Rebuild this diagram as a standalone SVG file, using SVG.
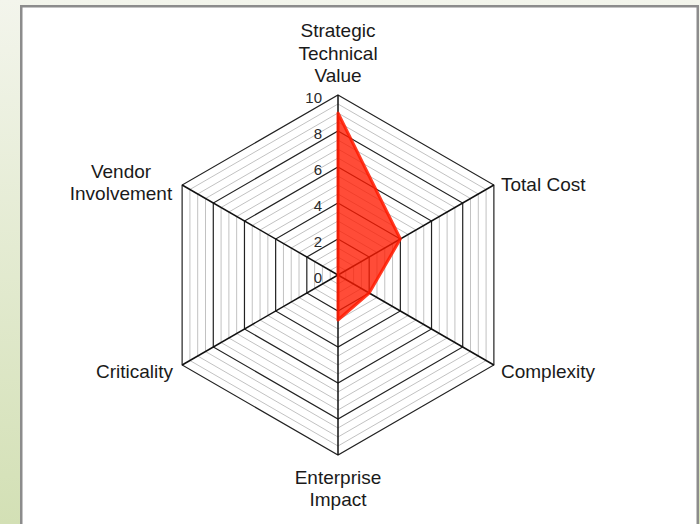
<svg xmlns="http://www.w3.org/2000/svg" width="700" height="524" viewBox="0 0 700 524">
<defs>
<linearGradient id="bg" x1="0" y1="0" x2="0" y2="1">
<stop offset="0" stop-color="#f3f5ec"/>
<stop offset="1" stop-color="#d3e0b5"/>
</linearGradient>
</defs>
<style>
.minor{fill:none;stroke:#c2c2c2;stroke-width:1}
.major{fill:none;stroke:#222;stroke-width:1.2}
.axis{stroke:#111;stroke-width:1.5}
.lbl{font-family:"Liberation Sans",Arial,sans-serif;font-size:19px;fill:#1a1a1a}
.tick{font-family:"Liberation Sans",Arial,sans-serif;font-size:15px;fill:#2a2a2a;text-anchor:end}
.data{fill:#ff1a00;fill-opacity:0.78;stroke:#ff1a00;stroke-opacity:0.85;stroke-width:3;stroke-linejoin:round}
</style>
<rect x="0" y="0" width="700" height="524" fill="url(#bg)"/>
<rect id="panel" x="21.25" y="6.25" width="676.5" height="530" fill="#ffffff" stroke="#8c8c8c" stroke-width="2.5"/>
<g id="grid-minor">
<polygon class="minor" points="338,266 345.79,270.5 345.79,279.5 338,284 330.21,279.5 330.21,270.5"/>
<polygon class="minor" points="338,257 353.59,266 353.59,284 338,293 322.41,284 322.41,266"/>
<polygon class="minor" points="338,248 361.38,261.5 361.38,288.5 338,302 314.62,288.5 314.62,261.5"/>
<polygon class="minor" points="338,230 376.97,252.5 376.97,297.5 338,320 299.03,297.5 299.03,252.5"/>
<polygon class="minor" points="338,221 384.77,248 384.77,302 338,329 291.23,302 291.23,248"/>
<polygon class="minor" points="338,212 392.56,243.5 392.56,306.5 338,338 283.44,306.5 283.44,243.5"/>
<polygon class="minor" points="338,194 408.15,234.5 408.15,315.5 338,356 267.85,315.5 267.85,234.5"/>
<polygon class="minor" points="338,185 415.94,230 415.94,320 338,365 260.06,320 260.06,230"/>
<polygon class="minor" points="338,176 423.74,225.5 423.74,324.5 338,374 252.26,324.5 252.26,225.5"/>
<polygon class="minor" points="338,158 439.33,216.5 439.33,333.5 338,392 236.67,333.5 236.67,216.5"/>
<polygon class="minor" points="338,149 447.12,212 447.12,338 338,401 228.88,338 228.88,212"/>
<polygon class="minor" points="338,140 454.91,207.5 454.91,342.5 338,410 221.09,342.5 221.09,207.5"/>
<polygon class="minor" points="338,122 470.50,198.5 470.50,351.5 338,428 205.50,351.5 205.50,198.5"/>
<polygon class="minor" points="338,113 478.30,194 478.30,356 338,437 197.70,356 197.70,194"/>
<polygon class="minor" points="338,104 486.09,189.5 486.09,360.5 338,446 189.91,360.5 189.91,189.5"/>
</g>
<g id="grid-major">
<polygon class="major" points="338,239 369.18,257 369.18,293 338,311 306.82,293 306.82,257"/>
<polygon class="major" points="338,203 400.35,239 400.35,311 338,347 275.65,311 275.65,239"/>
<polygon class="major" points="338,167 431.53,221 431.53,329 338,383 244.47,329 244.47,221"/>
<polygon class="major" points="338,131 462.71,203 462.71,347 338,419 213.29,347 213.29,203"/>
<polygon class="major" points="338,95 493.88,185 493.88,365 338,455 182.12,365 182.12,185"/>
</g>
<g id="axes">
<line class="axis" x1="338" y1="275" x2="338" y2="95"/>
<line class="axis" x1="338" y1="275" x2="493.88" y2="185"/>
<line class="axis" x1="338" y1="275" x2="493.88" y2="365"/>
<line class="axis" x1="338" y1="275" x2="338" y2="455"/>
<line class="axis" x1="338" y1="275" x2="182.12" y2="365"/>
<line class="axis" x1="338" y1="275" x2="182.12" y2="185"/>
</g>
<g id="ticks">
<text class="tick" x="322" y="103">10</text>
<text class="tick" x="322" y="139">8</text>
<text class="tick" x="322" y="175">6</text>
<text class="tick" x="322" y="211">4</text>
<text class="tick" x="322" y="247">2</text>
<text class="tick" x="322" y="283">0</text>
</g>
<g id="series">
<polygon class="data" points="338,113 400.35,239 369.18,293 338,320 338,275 338,275"/>
</g>
<g id="labels">
<text class="lbl" x="338" y="37" text-anchor="middle">Strategic</text>
<text class="lbl" x="338" y="60" text-anchor="middle">Technical</text>
<text class="lbl" x="338" y="82" text-anchor="middle">Value</text>
<text class="lbl" x="501" y="191">Total Cost</text>
<text class="lbl" x="501" y="378">Complexity</text>
<text class="lbl" x="338" y="484" text-anchor="middle">Enterprise</text>
<text class="lbl" x="338" y="506" text-anchor="middle">Impact</text>
<text class="lbl" x="173" y="378" text-anchor="end">Criticality</text>
<text class="lbl" x="121" y="178" text-anchor="middle">Vendor</text>
<text class="lbl" x="121" y="200" text-anchor="middle">Involvement</text>
</g>
</svg>
